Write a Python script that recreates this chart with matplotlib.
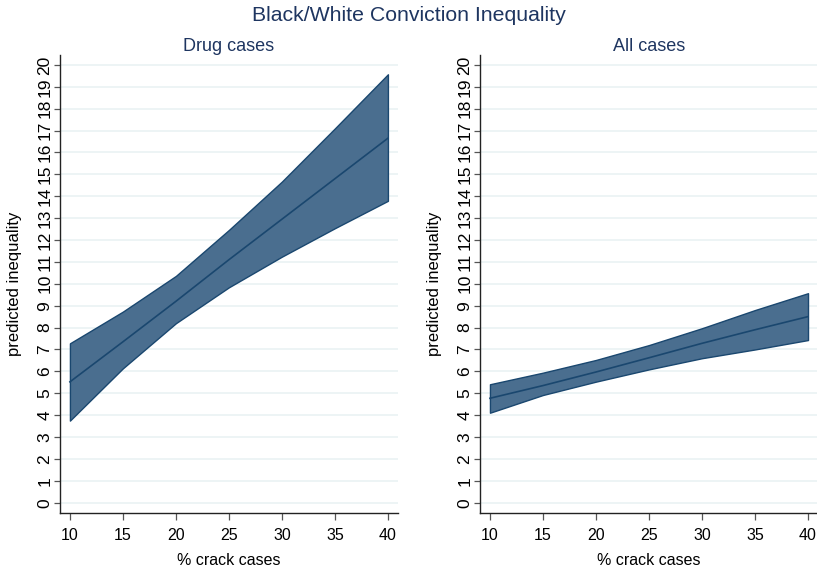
import matplotlib
matplotlib.use("Agg")
import matplotlib.pyplot as plt
import numpy as np

plt.rcParams['font.family'] = ['Liberation Sans', 'DejaVu Sans']

# % crack cases
crack = [10, 15, 20, 25, 30, 35, 40]

# drug cases: prediction and confidence band
drug_pred = [5.52, 7.35, 9.2, 11.1, 12.95, 14.8, 16.65]
drug_lo = [3.75, 6.14, 8.2, 9.84, 11.24, 12.54, 13.79]
drug_hi = [7.28, 8.73, 10.36, 12.46, 14.67, 17.1, 19.57]

# all cases
all_pred = [4.77, 5.35, 5.97, 6.62, 7.28, 7.9, 8.5]
all_lo = [4.11, 4.92, 5.53, 6.09, 6.6, 7.0, 7.43]
all_hi = [5.41, 5.94, 6.52, 7.2, 7.97, 8.8, 9.57]

panels = [("Drug cases", drug_pred, drug_lo, drug_hi),
          ("All cases", all_pred, all_lo, all_hi)]

navy = "#1a476f"
fill = "#4a6e8f"
grid = "#eaf2f3"
title_col = "#1e3560"

fig = plt.figure(figsize=(8.17, 5.71), dpi=100)
boxes = [[0.0734, 0.102, 0.4136, 0.802], [0.5875, 0.102, 0.4137, 0.802]]

for box, (name, pred, lo, hi) in zip(boxes, panels):
    ax = fig.add_axes(box)
    ax.fill_between(crack, lo, hi, facecolor=fill, edgecolor=navy, linewidth=1.0, zorder=2)
    ax.plot(crack, pred, color=navy, linewidth=1.2, zorder=3)
    ax.set_xlim(9.06, 40.94)
    ax.set_ylim(-0.46, 20.46)
    ax.set_xticks(crack)
    ax.set_yticks(range(0, 21))
    ax.set_yticklabels([str(v) for v in range(0, 21)], rotation=90, va='center')
    ax.yaxis.grid(True, color=grid, linewidth=1.2, zorder=0)
    ax.set_axisbelow(True)
    for s in ['top', 'right']:
        ax.spines[s].set_visible(False)
    for s in ['left', 'bottom']:
        ax.spines[s].set_color('#222222')
        ax.spines[s].set_linewidth(1.0)
    ax.tick_params(axis='x', labelsize=11.5, length=5, color='#555555', width=0.9, pad=6)
    ax.tick_params(axis='y', labelsize=12.5, length=4, color='#555555', width=0.9, pad=1.5)
    ax.set_xlabel("% crack cases", fontsize=11.5, labelpad=7)
    ax.set_ylabel("predicted inequality", fontsize=12, labelpad=11)
    ax.set_title(name, fontsize=13, color=title_col, pad=3)

fig.suptitle("Black/White Conviction Inequality", fontsize=15.3, color=title_col, y=0.99)

fig.savefig("out.png", dpi=100)
